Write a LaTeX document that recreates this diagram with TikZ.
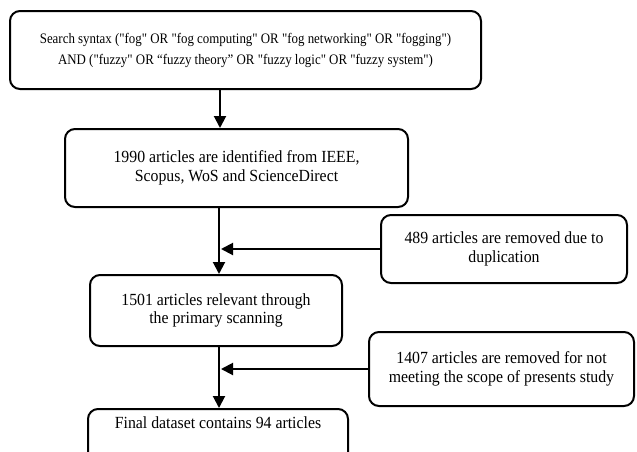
\documentclass[tikz,border=0pt]{standalone}
\usepackage{fontspec}
\setmainfont{Liberation Serif}[Ligatures=TeXOff, FakeStretch=0.93]
\newfontfamily\topfont{Liberation Serif}[Ligatures=TeXOff, FakeStretch=0.89]
\usetikzlibrary{arrows.meta}
\begin{document}
\begin{tikzpicture}[x=1pt,y=-1pt,
  box/.style={draw=black, line width=2pt, rounded corners=10pt, align=center,
    inner sep=0pt, font=\fontsize{17}{18.8}\selectfont},
  arr/.style={line width=2pt, -{Triangle[length=12pt,width=12pt]}}]
\clip (0,0) rectangle (637,451);
\fill[white] (0,0) rectangle (637,451);
\node[box, minimum width=471pt, minimum height=78pt, font=\topfont\fontsize{14.5}{21}\selectfont] (b1) at (245.5,50)
  {Search syntax ("fog" OR "fog computing" OR "fog networking" OR "fogging")\\
   AND ("fuzzy" OR “fuzzy theory” OR "fuzzy logic" OR "fuzzy system")};
\node[box, minimum width=343pt, minimum height=78pt] (b2) at (236.5,168)
  {1990 articles are identified from IEEE,\\Scopus, WoS and ScienceDirect};
\node[box, minimum width=246pt, minimum height=68pt] (b3) at (504,249)
  {489 articles are removed due to\\duplication};
\node[box, minimum width=252pt, minimum height=71pt] (b4) at (216,310.5)
  {1501 articles relevant through\\the primary scanning};
\node[box, minimum width=265pt, minimum height=74pt] (b5) at (501.5,369)
  {1407 articles are removed for not\\meeting the scope of presents study};
\node[box, minimum width=260pt, anchor=north, text height=11pt, text depth=45pt,
  inner ysep=8pt] (b6) at (218,408) {Final dataset contains 94 articles};
\coordinate (c1) at (220,0);
\coordinate (c2) at (219,0);
\coordinate (c3) at (221,0);
\draw[arr] (b1.south -| c1) -- (b2.north -| c1);
\draw[arr] (b2.south -| c2) -- (b4.north -| c2);
\draw[arr] (b4.south -| c2) -- (b6.north -| c2);
\draw[arr] (b3.west) -- (b3.west -| c3);
\draw[arr] (b5.west) -- (b5.west -| c3);
\end{tikzpicture}
\end{document}
